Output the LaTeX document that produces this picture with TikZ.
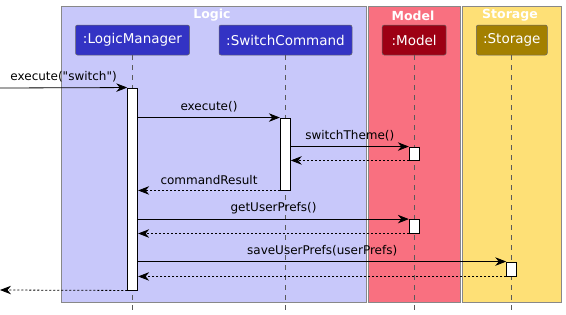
\documentclass[tikz,border=0pt]{standalone}
\usepackage{fontspec}
\setmainfont{DejaVu Sans}
% same face without the TeX input mapping, so that " stays a straight quote
\newfontfamily\plainsans{DejaVu Sans}
\usetikzlibrary{arrows.meta}

\definecolor{logicbg}{RGB}{200,200,250}
\definecolor{logicpart}{RGB}{51,51,196}
\definecolor{modelbg}{RGB}{249,112,128}
\definecolor{modelpart}{RGB}{157,0,20}
\definecolor{storagebg}{RGB}{254,224,118}
\definecolor{storagepart}{RGB}{163,128,0}
\definecolor{framegray}{RGB}{136,136,136}
\definecolor{lifegray}{RGB}{90,90,90}

\tikzset{
  frame/.style={draw=framegray, line width=0.9pt},
  frametitle/.style={text=white, font=\fontsize{12.5}{14}\selectfont\bfseries, inner sep=0pt},
  part/.style={draw=black!60, line width=0.5pt, rounded corners=2pt, text=white,
    font=\fontsize{13.5}{16}\selectfont, minimum height=30pt, inner sep=0pt},
  lifeline/.style={draw=lifegray, line width=0.7pt, dash pattern=on 5pt off 5pt},
  actbar/.style={draw=black, fill=white, line width=0.9pt, minimum width=10pt, inner sep=0pt},
  tip/.style={-{Stealth[length=11pt, width=8.5pt, inset=3.5pt]}},
  msg/.style={tip, draw=black, line width=0.8pt},
  ret/.style={tip, draw=black, line width=0.8pt, dash pattern=on 2pt off 2pt},
  lbl/.style={font=\plainsans\fontsize{12}{14}\selectfont, inner sep=0pt, above=5pt}
}

\begin{document}
\begin{tikzpicture}[x=1pt, y=-1pt]
\useasboundingbox (0,0) rectangle (566,314);

% swimlane boxes
\draw[frame, fill=logicbg] (61,6) rectangle (366,302);
\draw[frame, fill=modelbg] (368,6) rectangle (460,302);
\draw[frame, fill=storagebg] (462,6) rectangle (561,302);
\node[frametitle] (tlogic) at (212,15.5) {Logic};
\node[frametitle] (tmodel) at (413,15.5) {Model};
\node[frametitle] (tstorage) at (510,15.5) {Storage};

% participants
\node[part, fill=logicpart, minimum width=114pt] (lm) at (132.5,40) {:LogicManager};
\node[part, fill=logicpart, minimum width=133pt] (sc) at (285.5,40) {:SwitchCommand};
\node[part, fill=modelpart, minimum width=64pt] (md) at (414.2,40) {:Model};
\node[part, fill=storagepart, minimum width=71pt] (st) at (511.8,40) {:Storage};

% lifelines
\coordinate (lmend) at (132.7,312);
\coordinate (scend) at (285.3,312);
\coordinate (mdend) at (414.3,312);
\coordinate (stend) at (511.7,312);
\draw[lifeline] (lm.south -| lmend) -- (lmend);
\draw[lifeline] (sc.south -| scend) -- (scend);
\draw[lifeline] (md.south -| mdend) -- (mdend);
\draw[lifeline] (st.south -| stend) -- (stend);

% activation bars
\node[actbar, minimum height=202pt] (lmbar) at (132.7,189) {};
\node[actbar, minimum height=72pt] (scbar) at (285.3,154) {};
\node[actbar, minimum height=13pt] (mdbar1) at (414.3,153.5) {};
\node[actbar, minimum height=13.5pt] (mdbar2) at (414.3,226.3) {};
\node[actbar, minimum height=14pt] (stbar) at (511.7,269) {};

% caller side
\coordinate (caller) at (0,88);
\coordinate (exit) at (0,290);

% messages
\draw[msg] (caller) -- node[lbl] {execute("switch")} (lmbar.north west);
\draw[msg] (lmbar.east |- scbar.north) -- node[lbl] {execute()} (scbar.north west);
\draw[msg] (scbar.east |- mdbar1.north) -- node[lbl] {switchTheme()} (mdbar1.north west);
\draw[ret] (mdbar1.south west) -- (scbar.east |- mdbar1.south);
\draw[ret] (scbar.south west) -- node[lbl] {commandResult} (lmbar.east |- scbar.south);
\draw[msg] (lmbar.east |- mdbar2.north) -- node[lbl] {getUserPrefs()} (mdbar2.north west);
\draw[ret] (mdbar2.south west) -- (lmbar.east |- mdbar2.south);
\draw[msg] (lmbar.east |- stbar.north) -- node[lbl] {saveUserPrefs(userPrefs)} (stbar.north west);
\draw[ret] (stbar.south west) -- (lmbar.east |- stbar.south);
\draw[ret] (lmbar.south west) -- (exit);
\end{tikzpicture}
\end{document}
